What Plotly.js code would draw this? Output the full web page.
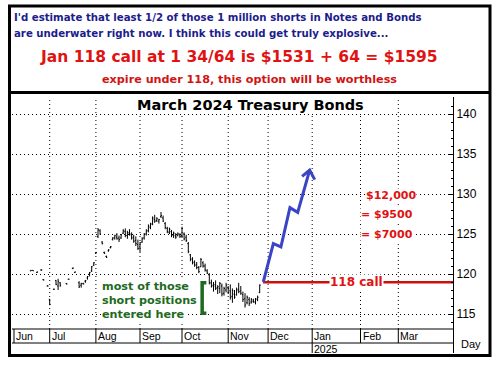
<!DOCTYPE html>
<html>
<head>
<meta charset="utf-8">
<script src="https://cdn.plot.ly/plotly-3.0.1.min.js"></script>
<style>html,body{margin:0;padding:0;background:#fff;}#chart{width:498px;height:366px;}</style>
</head>
<body>
<div id="chart"></div>
<script>
// ---- data (x = trading-day index from chart start) ----
const barX = [8,9,11,13,14,16,17,19,20,21,22,25,26,28,29,31,32,33,34,35,36,37,38,
  39,40,41,42,43,44,45,46,47,48,49,50,51,52,53,54,55,56,57,58,59,60,61,62,63,64,65,66,67,68,69,70,
  71,72,73,74,75,76,77,78,79,80,81,82,83,84,85,86,87,88,89,90,91,92,93,94,95,96,97,98,99,100,
  101,102,103,104,105,106,107,108,109,110,111,112,113,114,115,116,117];
const barOpen = [120.4,120.45,120.2,120.5,119.3,118.5,116.8,118.1,119.2,118.5,118.9,118.8,119.35,120.7,120.2,118.9,118.6,118.8,119.1,119.5,120.0,120.4,121.1,
  122.6,124.7,125.4,124.0,122.7,122.2,122.9,123.3,124.3,124.5,124.6,124.5,124.5,125.1,125.3,124.8,125.1,124.9,124.6,124.2,123.7,123.4,124.0,124.5,125.0,125.4,125.8,126.3,126.8,126.7,126.6,127.2,
  127.0,126.3,125.7,125.2,125.3,124.9,124.8,124.8,124.9,124.8,125.0,124.6,123.8,122.4,121.9,121.5,121.2,120.8,120.9,121.4,121.0,120.4,119.9,118.9,118.6,118.5,118.3,118.2,118.5,117.6,
  118.0,118.3,117.9,117.2,117.5,117.4,118.1,117.9,117.4,116.9,116.4,116.8,116.5,116.6,116.5,116.8,117.7];
const barHigh = [120.5,120.5,120.3,120.6,119.35,118.6,116.9,118.15,119.25,119.4,119.0,118.85,119.4,120.8,120.3,119.1,118.9,118.9,119.25,119.75,120.25,121.0,121.5,
  122.75,125.75,125.6,124.1,122.8,122.3,123.1,123.5,124.6,124.9,125.1,124.8,125.0,125.6,125.7,125.4,125.6,125.2,124.9,124.7,124.3,124.0,124.6,125.1,125.6,126.2,126.4,127.2,127.4,127.1,126.9,127.75,
  127.3,126.5,125.9,125.8,125.5,125.3,125.1,125.2,125.1,125.9,125.2,124.9,124.0,122.5,122.1,121.7,121.5,121.0,122.0,121.6,121.3,120.6,120.1,119.3,119.0,119.2,118.6,119.0,118.8,118.4,
  118.9,118.5,118.7,118.2,118.0,118.3,118.9,118.5,117.8,117.6,117.3,117.1,117.0,116.9,117.0,117.3,118.7];
const barLow = [120.35,120.4,120.15,120.4,119.2,118.45,116.1,118.0,118.6,118.0,118.4,118.7,119.3,120.6,120.15,118.25,118.3,118.7,118.9,119.3,119.7,120.25,121.0,
  122.5,124.5,124.9,123.7,122.5,122.0,122.8,123.2,124.2,124.3,124.3,124.0,124.4,125.0,124.6,124.4,124.8,124.3,123.9,123.5,123.0,122.75,123.9,124.3,124.8,125.2,125.6,126.1,126.4,126.5,126.3,127.0,
  126.5,125.6,125.1,125.0,124.6,124.5,124.4,124.7,124.5,124.5,124.2,124.0,122.6,121.6,121.2,120.9,120.6,120.1,120.9,120.8,120.3,120.0,118.7,118.3,117.8,118.0,117.5,117.6,117.2,117.3,
  117.7,117.5,116.8,116.4,116.9,117.3,117.6,117.4,116.5,115.8,116.2,116.0,116.3,116.4,116.2,116.6,117.6];
const barClose = [120.45,120.4,120.25,120.5,119.25,118.5,116.2,118.1,118.7,119.1,118.6,118.75,119.35,120.75,120.25,118.4,118.8,118.75,119.2,119.7,120.2,120.9,121.4,
  122.7,125.5,125.0,123.8,122.6,122.1,123.0,123.4,124.5,124.8,124.4,124.3,124.9,125.4,124.8,125.2,125.0,124.5,124.1,123.8,123.2,123.9,124.4,125.0,125.4,126.0,126.2,127.0,126.6,126.9,126.8,127.3,
  126.6,125.8,125.3,125.6,124.8,125.1,124.6,125.0,124.7,125.7,124.4,124.2,122.8,121.8,121.4,121.1,120.8,120.3,121.8,121.0,120.5,120.1,118.9,118.5,118.7,118.2,118.4,118.8,117.5,118.2,
  118.6,117.7,117.1,117.9,117.1,118.0,117.8,117.6,116.8,116.1,117.1,116.3,116.8,116.5,116.9,117.1,118.6];

// projected path (hand-drawn blue arrow) and the 118 call level as drawn
const projX = [118.7, 123.5, 127.1, 131.4, 135.1, 140.8];
const projY = [119.0, 123.8, 123.4, 128.3, 127.7, 133.0];
const headX = [137.2, 140.8, 143.2];
const headY = [132.2, 133.0, 131.8];
const callX = [118.6, 209.05];
const callLevel = 118.96;

// axis labels
const monthIdx = [0, 17, 39, 60, 80, 102, 121, 142, 165, 183];
const monthLabels = ['Jun','Jul','Aug','Sep','Oct','Nov','Dec','Jan','Feb','Mar'];
const priceTicks = [115, 120, 125, 130, 135, 140];
const priceLabels = ['115','120','125','130','135','140'];
const dollarLabels = ['$12,000', '= $9500', '= $7000'];
const dollarLevels = [129.875, 127.5, 125.0];
const greenLines = ['most of those', 'short positions', 'entered here'];
const greenLevels = [118.4, 116.65, 115.0];

// ---- layout geometry ----
const W = 498, H = 366, ML = 12, MR = 45, MT = 97, MB = 13;
const PW = W - ML - MR, PH = H - MT - MB, PB = H - MB;
const xp = px => (px - ML) / PW;
const yp = py => (PB - py) / PH;
const xr = [-0.952, 209.05];
const yr = [110.125, 142.125];
const stripTop = 113.125, stripMid = 111.375;

const minorVals = [];
for (let v = 114; v <= 142; v++) if (v % 5 !== 0) minorVals.push(v);

const BOLD = 'DejaVu Sans, Verdana, sans-serif';
const NARROW = 'Liberation Sans Narrow, Arial Narrow, Liberation Sans, Arial, sans-serif';
const RED = '#e01212', NAVY = '#1c1c8c', GREEN = '#1e6a1e', BLUE = '#3b44c4';

const traces = [
  {type:'ohlc', x:barX, open:barOpen, high:barHigh, low:barLow, close:barClose,
   increasing:{line:{color:'#000', width:1}}, decreasing:{line:{color:'#000', width:1}},
   tickwidth:0.45, hoverinfo:'skip', showlegend:false},
  {type:'scatter', mode:'lines', x:callX, y:[callLevel, callLevel],
   line:{color:'#cc1010', width:2.5}, hoverinfo:'skip', showlegend:false},
  {type:'scatter', mode:'lines', x:projX, y:projY,
   line:{color:BLUE, width:3}, hoverinfo:'skip', showlegend:false},
  {type:'scatter', mode:'lines', x:headX, y:headY,
   line:{color:BLUE, width:3}, hoverinfo:'skip', showlegend:false}
];

const shapes = [];
// vertical dotted month grid
monthIdx.slice(1).forEach(m => shapes.push({type:'line', xref:'x', yref:'y', x0:m, x1:m, y0:stripTop, y1:yr[1],
  line:{color:'#000', width:1, dash:'1px,3px'}, layer:'below'}));
// date strip lines
shapes.push({type:'line', xref:'paper', yref:'y', x0:0, x1:1, y0:stripTop, y1:stripTop, line:{color:'#000', width:1}});
shapes.push({type:'line', xref:'paper', yref:'y', x0:0, x1:1, y0:stripMid, y1:stripMid, line:{color:'#000', width:1}});
monthIdx.forEach((m, i) => shapes.push({type:'line', xref:'x', yref:'y', x0:m, x1:m, y0:stripTop,
  y1: monthLabels[i] === 'Jan' ? yr[0] : stripMid, line:{color:'#000', width:1}}));
// green bracket
shapes.push({type:'path', xref:'x', yref:'y', path:'M 91.6,118.9 L 89.6,118.9 L 89.6,115.1 L 91.6,115.1',
  line:{color:GREEN, width:3.5}});
// frame
shapes.push({type:'rect', xref:'paper', yref:'paper', x0:xp(9.5), x1:xp(490), y0:yp(355.5), y1:yp(6),
  line:{color:'#000', width:3}, layer:'above'});
shapes.push({type:'line', xref:'paper', yref:'paper', x0:xp(9.5), x1:xp(490), y0:yp(92.5), y1:yp(92.5),
  line:{color:'#000', width:3}, layer:'above'});

const annotations = [];
const addText = (o) => annotations.push(Object.assign({showarrow:false, borderpad:0}, o));
// header text
addText({xref:'paper', yref:'paper', x:xp(13), y:yp(17.5), xanchor:'left', yanchor:'middle',
  text:"I'd estimate that least 1/2 of those 1 million shorts in Notes and Bonds",
  font:{family:BOLD, size:10.2, weight:'bold', color:NAVY}});
addText({xref:'paper', yref:'paper', x:xp(13), y:yp(33.5), xanchor:'left', yanchor:'middle',
  text:"are underwater right now. I think this could get truly explosive...",
  font:{family:BOLD, size:10.2, weight:'bold', color:NAVY}});
addText({xref:'paper', yref:'paper', x:xp(239), y:yp(57), xanchor:'center', yanchor:'middle',
  text:"Jan 118 call at 1 34/64 is $1531 + 64 = $1595",
  font:{family:BOLD, size:15.5, weight:'bold', color:RED}});
addText({xref:'paper', yref:'paper', x:xp(249), y:yp(79), xanchor:'center', yanchor:'middle',
  text:"expire under 118, this option will be worthless",
  font:{family:BOLD, size:11.2, weight:'bold', color:'#d01414'}});
// chart title
addText({xref:'paper', yref:'paper', x:xp(250), y:yp(105), xanchor:'center', yanchor:'middle',
  text:"March 2024 Treasury Bonds", bgcolor:'#fff',
  font:{family:BOLD, size:14.5, weight:'bold', color:'#000'}});
// dollar values
dollarLabels.forEach((t, i) => addText({xref:'x', yref:'y', x: i === 0 ? 167.1 : 164.8, y:dollarLevels[i],
  xanchor:'left', yanchor:'middle', text:t, bgcolor:'#fff',
  font:{family:BOLD, size:11, weight:'bold', color:RED}}));
// 118 call label
addText({xref:'x', yref:'y', x:163.3, y:callLevel, xanchor:'center', yanchor:'middle', text:'118 call',
  bgcolor:'#fff', font:{family:BOLD, size:12, weight:'bold', color:RED}});
// green note
greenLines.forEach((t, i) => addText({xref:'x', yref:'y', x:41.4, y:greenLevels[i], xanchor:'left', yanchor:'middle',
  text:t, bgcolor:'#fff', font:{family:BOLD, size:11.2, weight:'bold', color:GREEN}}));
// month labels
monthIdx.forEach((m, i) => addText({xref:'x', yref:'y', x:m, xshift:1, y:112.2, xanchor:'left', yanchor:'middle',
  text:monthLabels[i], font:{family:NARROW, size:10.5, color:'#000'}}));
addText({xref:'x', yref:'y', x:monthIdx[7], xshift:1, y:110.6, xanchor:'left', yanchor:'middle',
  text:'2025', font:{family:NARROW, size:10.5, color:'#000'}});
addText({xref:'paper', yref:'paper', x:xp(471), y:yp(344), xanchor:'center', yanchor:'middle',
  text:'Day', font:{family:NARROW, size:11, color:'#000'}});

const layout = {
  width:W, height:H, margin:{l:ML, r:MR, t:MT, b:MB, pad:0},
  paper_bgcolor:'#fff', plot_bgcolor:'#fff', showlegend:false,
  xaxis:{range:xr, visible:false, fixedrange:true, rangeslider:{visible:false}},
  yaxis:{range:yr, side:'right', fixedrange:true, zeroline:false,
    showline:true, linecolor:'#000', linewidth:1,
    tickmode:'array', tickvals:priceTicks, ticktext:priceLabels,
    ticks:'inside', ticklen:4, tickcolor:'#000', tickwidth:1,
    tickfont:{family:NARROW, size:12, color:'#000'},
    showgrid:true, gridcolor:'#000', gridwidth:1, griddash:'1px,3px',
    minor:{tickmode:'array', tickvals:minorVals, ticks:'inside', ticklen:2.5, tickcolor:'#000', tickwidth:1, showgrid:false}},
  shapes:shapes, annotations:annotations
};

Plotly.newPlot('chart', traces, layout, {staticPlot:true, displayModeBar:false});
</script>
</body>
</html>
